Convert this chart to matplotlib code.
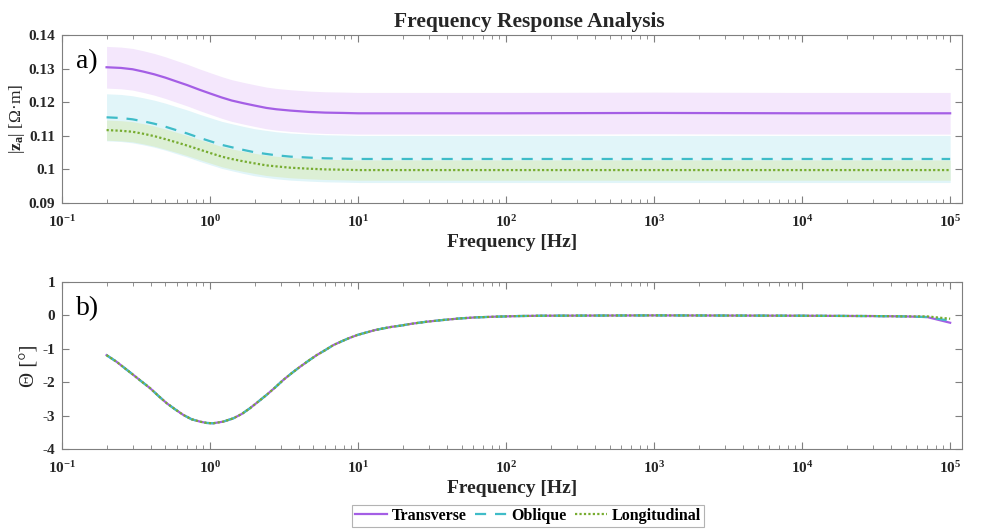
import numpy as np
import matplotlib
matplotlib.use('Agg')
import matplotlib.pyplot as plt
from matplotlib.ticker import LogLocator, FixedLocator, FixedFormatter, NullFormatter

plt.rcParams['font.family'] = ['Liberation Serif', 'DejaVu Serif']
plt.rcParams['font.weight'] = 'bold'
plt.rcParams['mathtext.fontset'] = 'custom'
plt.rcParams['mathtext.rm'] = 'Liberation Serif:bold'
plt.rcParams['mathtext.it'] = 'Liberation Serif:bold'
plt.rcParams['mathtext.bf'] = 'Liberation Serif:bold'

# magnitude data
freq_mag = [0.2, 0.25, 0.3, 0.355, 0.42, 0.5, 0.6, 0.7, 0.85, 1.0, 1.2, 1.4, 1.68,
            2.0, 2.4, 2.8, 3.5, 4.7, 6, 8, 10, 30, 100, 1e3, 1e4, 1e5]
mag_trans = [0.1304, 0.1302, 0.1298, 0.1291, 0.1283, 0.1273, 0.1261, 0.1251, 0.1237,
             0.1226, 0.1214, 0.1205, 0.1197, 0.1190, 0.1183, 0.1179, 0.1175, 0.1171,
             0.1169, 0.1168, 0.1167, 0.1167, 0.1167, 0.1168, 0.1167, 0.1167]
mag_obl = [0.1155, 0.1153, 0.1149, 0.1143, 0.1136, 0.1127, 0.1116, 0.1107, 0.1094,
           0.1084, 0.1073, 0.1066, 0.1058, 0.1051, 0.1046, 0.1042, 0.1038, 0.1035,
           0.1033, 0.1032, 0.1031, 0.1031, 0.1031, 0.1031, 0.1031, 0.1031]
mag_long = [0.1117, 0.1115, 0.1112, 0.1106, 0.1099, 0.1090, 0.1080, 0.1071, 0.1059,
            0.1049, 0.1038, 0.1031, 0.1024, 0.1018, 0.1012, 0.1009, 0.1005, 0.1002,
            0.1000, 0.0999, 0.0998, 0.0998, 0.0998, 0.0998, 0.0998, 0.0998]
band_trans = 0.0062
band_obl = 0.0070
band_long = 0.0030

# phase data
freq_ph = [0.2, 0.234, 0.303, 0.345, 0.394, 0.448, 0.51, 0.58, 0.66, 0.751, 0.855,
           0.948, 1.05, 1.23, 1.44, 1.64, 1.86, 2.12, 2.41, 2.75, 3.13, 3.56, 4.05,
           4.62, 5.25, 6.0, 6.8, 7.8, 8.8, 10, 11.4, 13, 14.8, 17, 19.2, 23, 29, 37,
           49, 62, 82, 120, 170, 1e3, 1e4, 3e4, 5e4, 7e4, 1e5]
ph_common = [-1.19, -1.39, -1.78, -1.98, -2.18, -2.41, -2.63, -2.81, -2.98, -3.11,
             -3.18, -3.22, -3.23, -3.18, -3.08, -2.95, -2.78, -2.58, -2.38, -2.16,
             -1.93, -1.73, -1.54, -1.36, -1.19, -1.04, -0.89, -0.77, -0.67, -0.58,
             -0.51, -0.44, -0.39, -0.34, -0.31, -0.25, -0.19, -0.14, -0.09, -0.06,
             -0.04, -0.02, -0.01, 0.0, -0.01, -0.02, -0.03, -0.05]
ph_trans = ph_common + [-0.22]
ph_obl = ph_common + [-0.16]
ph_long = ph_common[:-1] + [-0.03, -0.10]

c_trans = '#a45ee5'
c_obl = '#3fbcc8'
c_long = '#77ac30'
f_trans = '#f4e7fc'
f_obl = '#e1f5f9'
f_long = '#dcefd5'
gray = '#7f7f7f'
txt = '#262626'

fig = plt.figure(figsize=(9.89, 5.32), dpi=100)
ax1 = fig.add_axes([62/989, 1-203/532, 900/989, 168/532])
ax2 = fig.add_axes([62/989, 1-449/532, 900/989, 167/532])

fm = np.array(freq_mag)
ax1.fill_between(fm, np.array(mag_trans) - band_trans, np.array(mag_trans) + band_trans,
                 color=f_trans, lw=0)
ax1.fill_between(fm, np.array(mag_obl) - band_obl, np.array(mag_obl) + band_obl,
                 color=f_obl, lw=0)
ax1.fill_between(fm, np.array(mag_long) - band_long, np.array(mag_long) + band_long,
                 color=f_long, lw=0)
ax1.plot(fm, mag_trans, color=c_trans, lw=1.6, label='Transverse')
ax1.plot(fm, mag_obl, color=c_obl, lw=1.6, ls=(0, (5, 4)), label='Oblique')
ax1.plot(fm, mag_long, color=c_long, lw=1.6, ls=(0, (1, 1)), label='Longitudinal')

ax2.plot(freq_ph, ph_trans, color=c_trans, lw=1.6, label='Transverse')
ax2.plot(freq_ph, ph_obl, color=c_obl, lw=1.6, ls=(0, (5, 4)), label='Oblique')
ax2.plot(freq_ph, ph_long, color=c_long, lw=1.6, ls=(0, (1, 1)), label='Longitudinal')

xticklabels = [r'$10^{-1}$', r'$10^{0}$', r'$10^{1}$', r'$10^{2}$', r'$10^{3}$',
               r'$10^{4}$', r'$10^{5}$']
for ax in (ax1, ax2):
    ax.set_xscale('log')
    ax.set_xlim(0.1, 10**5.08)
    ax.xaxis.set_major_locator(FixedLocator([1e-1, 1, 1e1, 1e2, 1e3, 1e4, 1e5]))
    ax.xaxis.set_major_formatter(FixedFormatter(xticklabels))
    ax.xaxis.set_minor_locator(LogLocator(base=10, subs=np.arange(2, 10), numticks=20))
    ax.xaxis.set_minor_formatter(NullFormatter())
    ax.tick_params(which='both', direction='in', top=True, right=True, color=gray,
                   labelsize=11, labelcolor=txt)
    ax.tick_params(which='major', length=5, width=0.8)
    ax.tick_params(which='minor', length=3, width=0.6)
    ax.tick_params(axis='x', which='major', pad=8)
    ax.tick_params(axis='y', which='major', pad=5)
    for s in ax.spines.values():
        s.set_color(gray)
        s.set_linewidth(0.8)
    ax.set_xlabel('Frequency [Hz]', fontsize=14, fontweight='bold', color=txt, labelpad=3)

ax1.set_ylim(0.09, 0.14)
ax1.yaxis.set_major_locator(FixedLocator([0.09, 0.10, 0.11, 0.12, 0.13, 0.14]))
ax1.yaxis.set_major_formatter(FixedFormatter(['0.09', '0.1', '0.11', '0.12', '0.13', '0.14']))
ax1.set_ylabel(r'|$\mathrm{z_a}$| [Ω·m]', fontsize=12.5, color=txt, labelpad=1)
ax1.set_title('Frequency Response Analysis', fontsize=15.5, fontweight='bold',
              color=txt, pad=6, x=0.519)
ax1.text(0.016, 0.80, 'a)', transform=ax1.transAxes, fontsize=20, fontweight='normal')

ax2.set_ylim(-4, 1)
ax2.set_yticks([-4, -3, -2, -1, 0, 1])
ax2.set_yticklabels(['-4', '-3', '-2', '-1', '0', '1'])
ax2.set_ylabel('Θ [°]', fontsize=15, fontweight='normal', color=txt, labelpad=2)
ax2.text(0.016, 0.80, 'b)', transform=ax2.transAxes, fontsize=20, fontweight='normal')

leg = fig.legend(*ax2.get_legend_handles_labels(), loc='center', ncol=3,
                 bbox_to_anchor=(528/989, 1-516/532), fontsize=11.5, frameon=True,
                 fancybox=False, edgecolor='#a0a0a0', handlelength=2.0,
                 handletextpad=0.3, columnspacing=0.5, borderpad=0.2)
leg.get_frame().set_linewidth(0.8)

fig.savefig('out.png', dpi=100)
